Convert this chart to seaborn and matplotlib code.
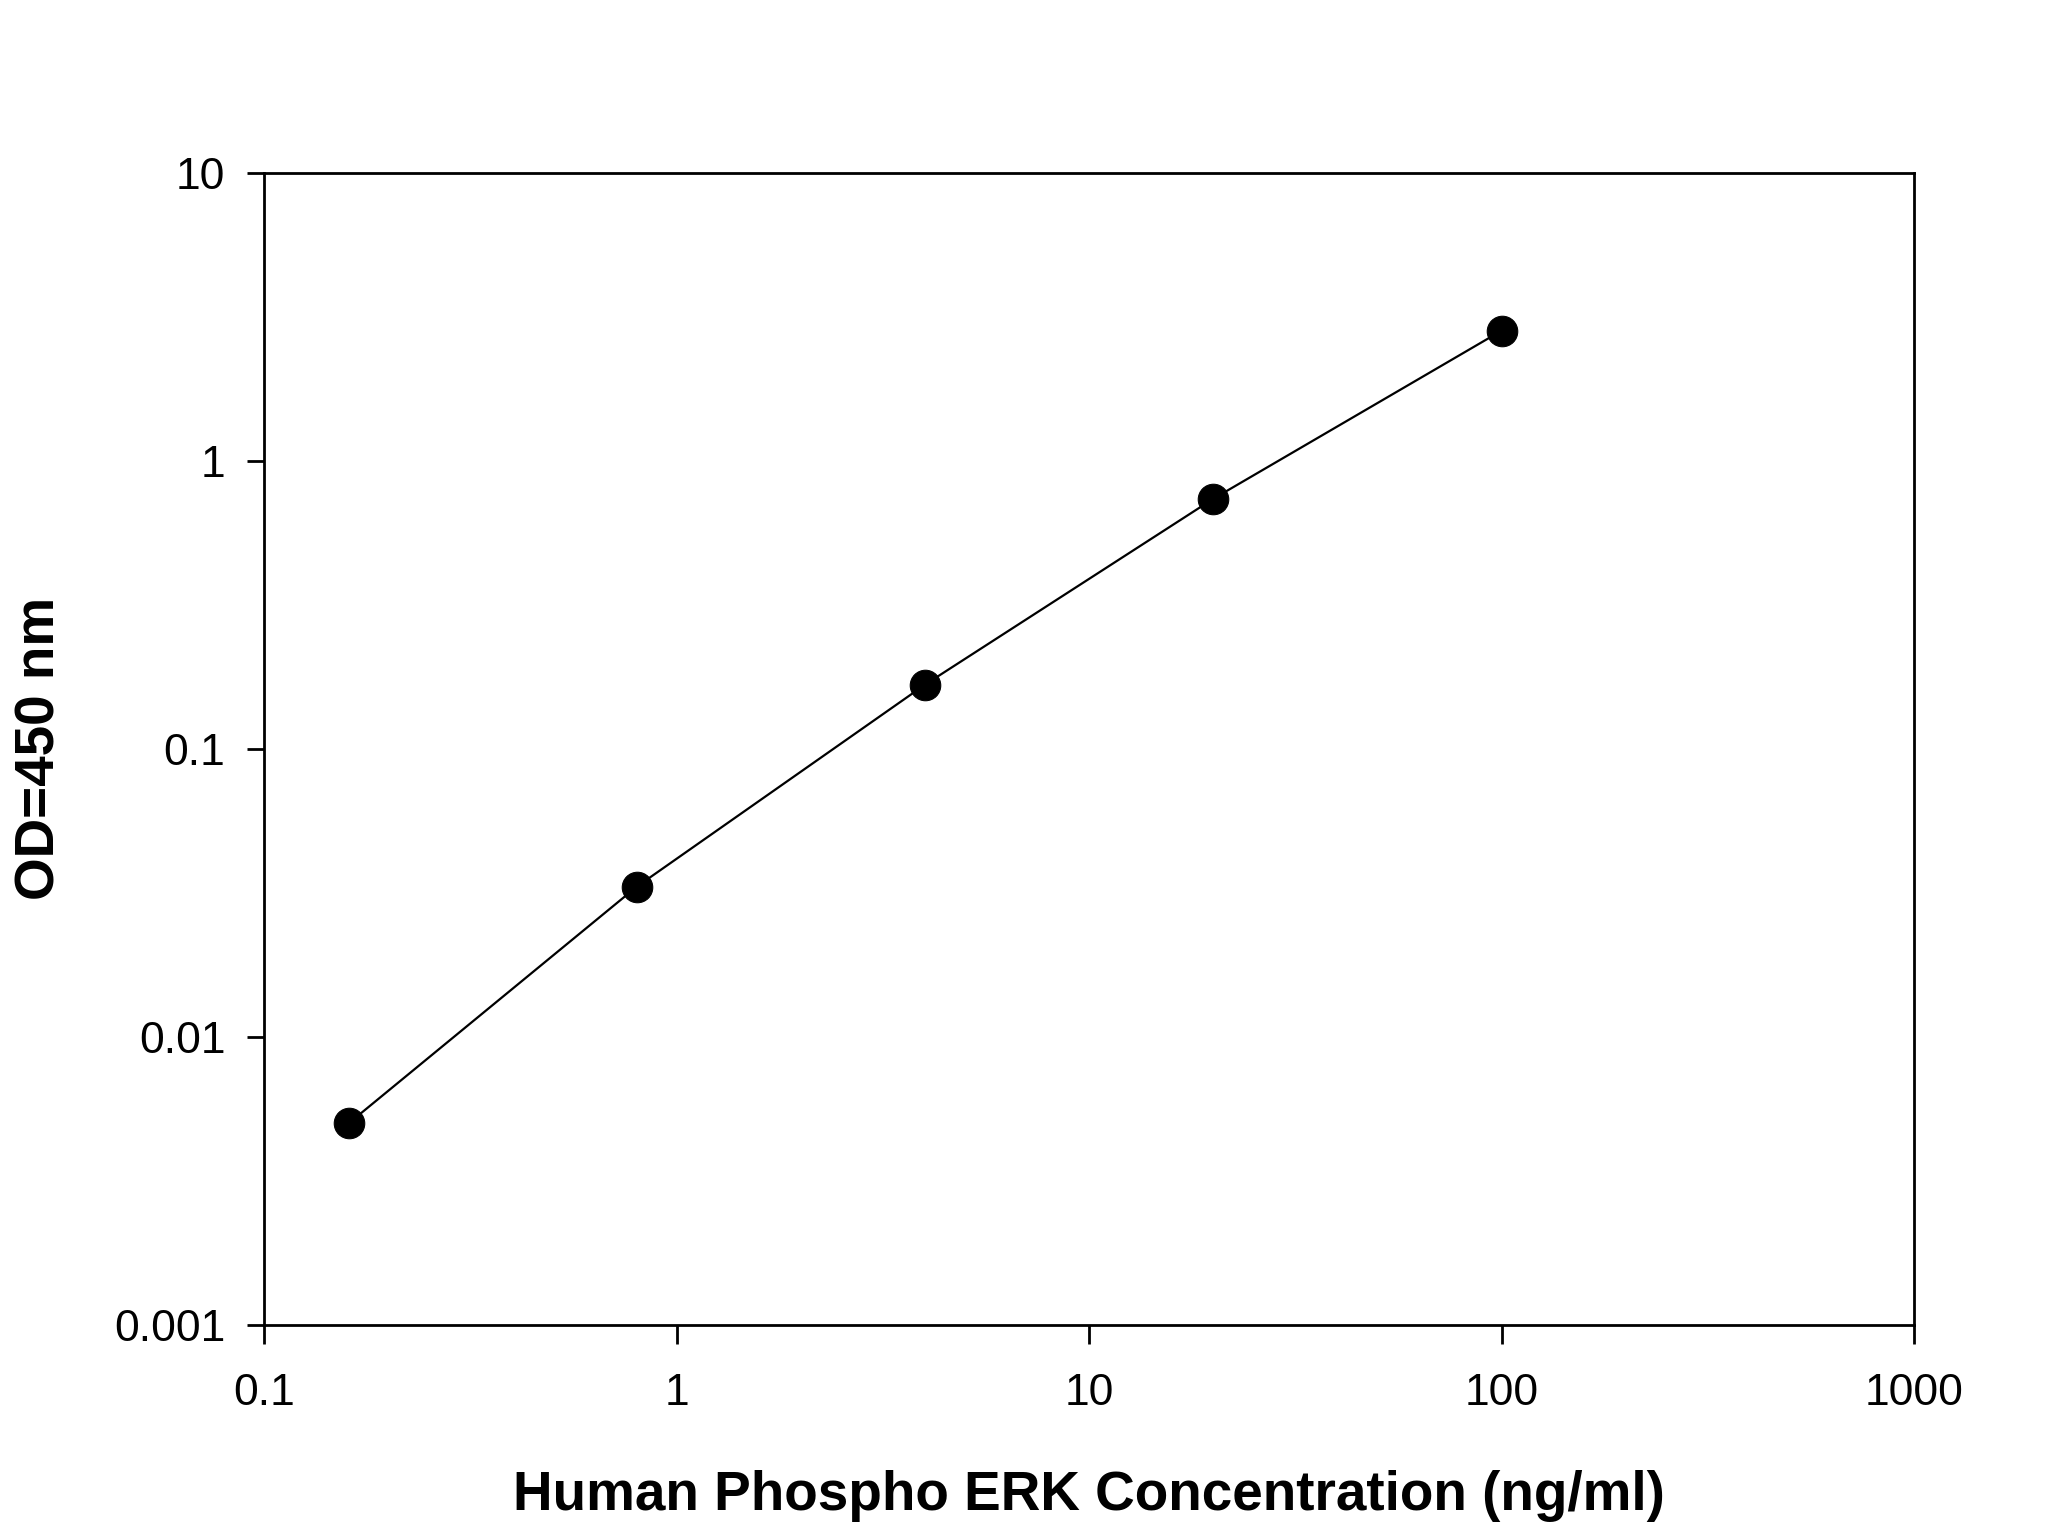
import numpy as np
import pandas as pd
import seaborn as sns
import matplotlib.pyplot as plt

# ELISA standard curve values
concentration = [0.16, 0.8, 4, 20, 100]
od_450 = [0.0050, 0.0332, 0.167, 0.738, 2.83]

df = pd.DataFrame({"conc": concentration, "od": od_450})

sns.set_style("ticks")
plt.rcParams['font.family'] = ['Liberation Sans', 'DejaVu Sans']
plt.rcParams['text.color'] = 'black'
plt.rcParams['axes.labelcolor'] = 'black'

fig = plt.figure(figsize=(20.65, 15.28), dpi=100)
ax = fig.add_axes([0.128, 0.133, 0.799, 0.754])

sns.lineplot(data=df, x="conc", y="od", ax=ax, color="black", linewidth=1.6,
             marker="o", markersize=22, markeredgecolor="black", markerfacecolor="black")

ax.set_xscale("log")
ax.set_yscale("log")
ax.set_xlim(0.1, 1000)
ax.set_ylim(0.001, 10)

xticks = [0.1, 1, 10, 100, 1000]
yticks = [0.001, 0.01, 0.1, 1, 10]
ax.set_xticks(xticks)
ax.set_xticklabels(["0.1", "1", "10", "100", "1000"])
ax.set_yticks(yticks)
ax.set_yticklabels(["0.001", "0.01", "0.1", "1", "10"])
ax.minorticks_off()

for s in ax.spines.values():
    s.set_visible(True)
    s.set_linewidth(2)
    s.set_color("black")
ax.tick_params(axis="x", length=14, width=2, direction="out", labelsize=32, pad=21,
               colors="black", labelcolor="black")
ax.tick_params(axis="y", length=12, width=2, direction="out", labelsize=32, pad=16,
               colors="black", labelcolor="black")

ax.set_xlabel("Human Phospho ERK Concentration (ng/ml)", fontsize=39.5, fontweight="bold",
              labelpad=40, color="black")
ax.set_ylabel("OD=450 nm", fontsize=39.5, fontweight="bold", labelpad=34, color="black")

fig.savefig("out.png", dpi=100, facecolor="white")
